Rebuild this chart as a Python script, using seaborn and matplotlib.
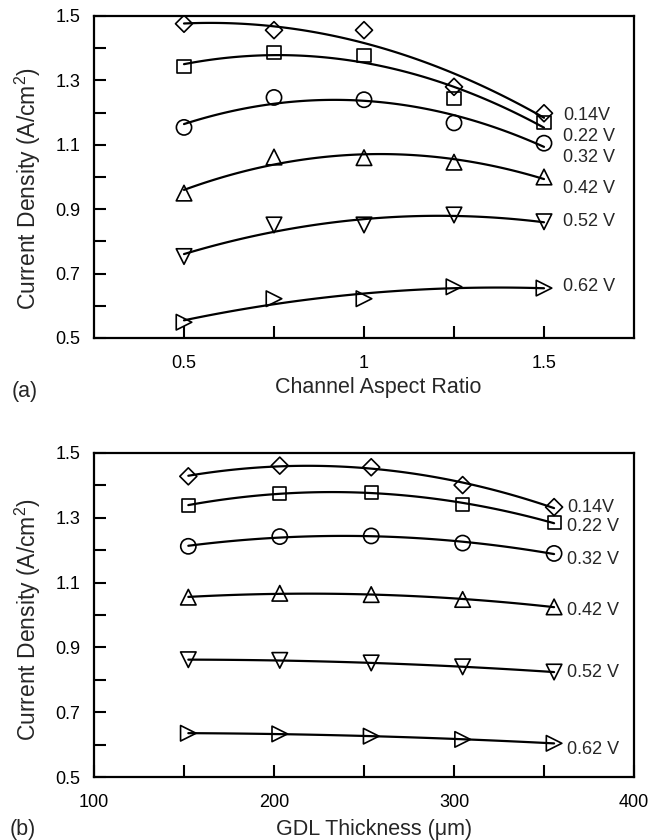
import numpy as np
import pandas as pd
import matplotlib
matplotlib.use("Agg")
import matplotlib.pyplot as plt
from matplotlib.ticker import FixedLocator
import seaborn as sns

# ---------------- data ----------------
voltages = ["0.14V", "0.22 V", "0.32 V", "0.42 V", "0.52 V", "0.62 V"]
markers = ["D", "s", "o", "^", "v", ">"]

aspect_ratio = [0.5, 0.75, 1.0, 1.25, 1.5]
cd_a_014 = [1.476, 1.456, 1.456, 1.280, 1.198]
cd_a_022 = [1.343, 1.386, 1.377, 1.243, 1.168]
cd_a_032 = [1.154, 1.247, 1.240, 1.168, 1.105]
cd_a_042 = [0.950, 1.062, 1.060, 1.046, 1.000]
cd_a_052 = [0.753, 0.851, 0.851, 0.882, 0.861]
cd_a_062 = [0.549, 0.622, 0.622, 0.659, 0.655]

gdl_thickness = [152.4, 203.2, 254.0, 304.8, 355.6]
cd_b_014 = [1.428, 1.461, 1.456, 1.401, 1.333]
cd_b_022 = [1.338, 1.376, 1.378, 1.342, 1.285]
cd_b_032 = [1.212, 1.242, 1.244, 1.222, 1.190]
cd_b_042 = [1.055, 1.067, 1.063, 1.048, 1.025]
cd_b_052 = [0.862, 0.860, 0.852, 0.840, 0.824]
cd_b_062 = [0.635, 0.633, 0.626, 0.616, 0.604]

series_a = [cd_a_014, cd_a_022, cd_a_032, cd_a_042, cd_a_052, cd_a_062]
series_b = [cd_b_014, cd_b_022, cd_b_032, cd_b_042, cd_b_052, cd_b_062]

y_ticks_major = [0.5, 0.7, 0.9, 1.1, 1.3, 1.5]
y_ticks_minor = [0.6, 0.8, 1.0, 1.2, 1.4]
x_ticks_a = [0.5, 1.0, 1.5]
x_ticklabels_a = ["0.5", "1", "1.5"]
x_minor_a = [0.75, 1.25]
x_ticks_b = [100, 200, 300, 400]
x_ticklabels_b = ["100", "200", "300", "400"]
x_minor_b = [150, 250, 350]

# label anchor positions (layout)
label_x_a = 1.553
label_y_a = [1.192, 1.126, 1.060, 0.964, 0.862, 0.661]
label_x_b = 363
label_y_b = [1.333, 1.274, 1.170, 1.013, 0.821, 0.586]

# ---------------- style ----------------
sns.set_style("ticks")
plt.rcParams["font.family"] = ["Liberation Sans", "DejaVu Sans"]
plt.rcParams["mathtext.fontset"] = "custom"
plt.rcParams["mathtext.rm"] = "Liberation Sans"
plt.rcParams["mathtext.it"] = "Liberation Sans:italic"

W, H = 654, 840
fig = plt.figure(figsize=(W / 100, H / 100), dpi=100)
ax_a = fig.add_axes([94 / W, 1 - 338 / H, 540 / W, 322 / H])
ax_b = fig.add_axes([94 / W, 1 - 777 / H, 540 / W, 324 / H])

marker_size = {"D": 75, "s": 88, "o": 120, "^": 125, "v": 125, ">": 125}
TICK_FS = 13
LABEL_FS = 15.5
YLABEL_FS = 16.5


def draw_panel(ax, xs, series, lab_x, lab_y):
    for vals, mk, lab, ly in zip(series, markers, voltages, lab_y):
        df = pd.DataFrame({"x": xs, "y": vals})
        sns.regplot(data=df, x="x", y="y", order=2, ci=None, scatter=False,
                    color="black", line_kws=dict(lw=1.6), ax=ax)
        sns.scatterplot(data=df, x="x", y="y", marker=mk, s=marker_size[mk],
                        facecolor="none", edgecolor="black", linewidth=1.2,
                        ax=ax, zorder=3)
        ax.text(lab_x, ly, lab, ha="left", va="center", fontsize=TICK_FS)
    for sp in ax.spines.values():
        sp.set_visible(True)
        sp.set_linewidth(1.6)
        sp.set_color("black")
    ax.set_ylim(0.5, 1.5)
    ax.yaxis.set_major_locator(FixedLocator(y_ticks_major))
    ax.yaxis.set_minor_locator(FixedLocator(y_ticks_minor))
    ax.set_yticklabels([f"{v:.1f}" for v in y_ticks_major])
    ax.tick_params(axis="both", which="both", direction="in", length=8.4,
                   width=1.5, labelsize=TICK_FS, colors="black", pad=10)
    ax.tick_params(axis="x", which="both", pad=12)
    ax.tick_params(axis="y", which="both", right=False)
    ax.tick_params(axis="x", which="both", top=False)
    ax.set_ylabel("Current Density (A/cm$^2$)", fontsize=YLABEL_FS)


draw_panel(ax_a, aspect_ratio, series_a, label_x_a, label_y_a)
ax_a.set_xlim(0.25, 1.75)
ax_a.xaxis.set_major_locator(FixedLocator(x_ticks_a))
ax_a.xaxis.set_minor_locator(FixedLocator(x_minor_a))
ax_a.set_xticklabels(x_ticklabels_a)
ax_a.set_xlabel("Channel Aspect Ratio", fontsize=LABEL_FS)
ax_a.xaxis.set_label_coords(0.527, -0.122)
ax_a.yaxis.set_label_coords(-0.094, 0.463)

draw_panel(ax_b, gdl_thickness, series_b, label_x_b, label_y_b)
ax_b.set_xlim(100, 400)
ax_b.xaxis.set_major_locator(FixedLocator(x_ticks_b))
ax_b.xaxis.set_minor_locator(FixedLocator(x_minor_b))
ax_b.set_xticklabels(x_ticklabels_b)
ax_b.set_xlabel("GDL Thickness (\u03bcm)", fontsize=LABEL_FS)
ax_b.xaxis.set_label_coords(0.519, -0.131)
ax_b.yaxis.set_label_coords(-0.094, 0.485)

fig.text(12 / W, 1 - 391 / H, "(a)", fontsize=LABEL_FS, ha="left", va="center")
fig.text(10 / W, 1 - 829 / H, "(b)", fontsize=LABEL_FS, ha="left", va="center")

fig.savefig("out.png", dpi=100)
